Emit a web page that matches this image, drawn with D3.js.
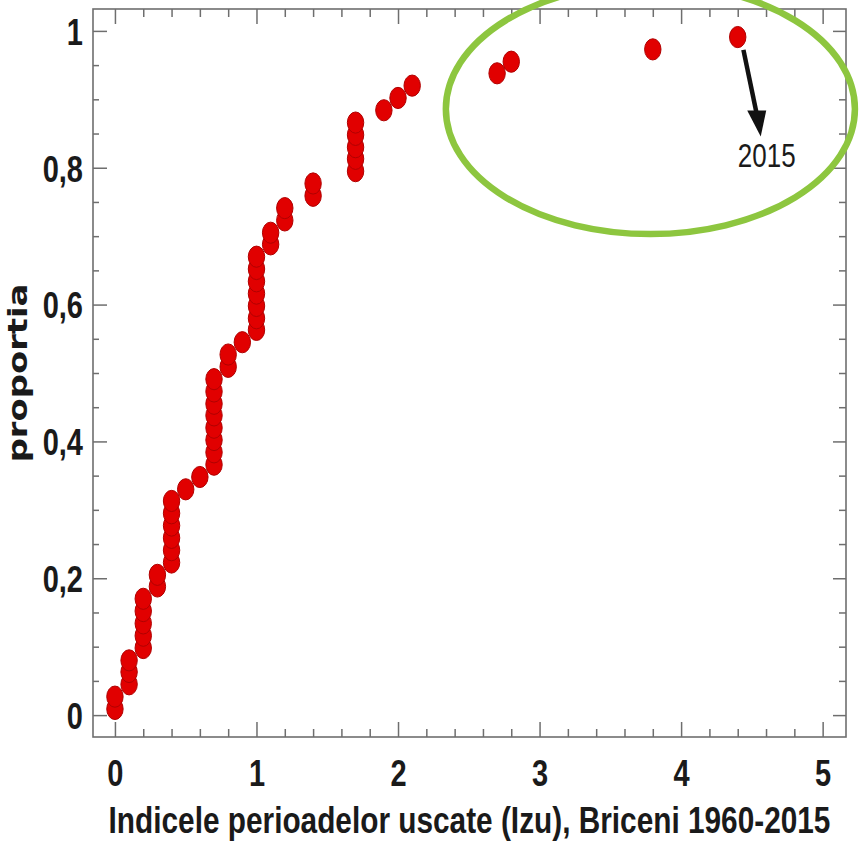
<!DOCTYPE html>
<html>
<head>
<meta charset="utf-8">
<script src="https://cdn.jsdelivr.net/npm/d3@7"></script>
<style>
  html, body { margin: 0; padding: 0; background: #ffffff; }
  svg { display: block; }
</style>
</head>
<body>
<svg id="chart" width="866" height="851"></svg>
<script>
// Dry-period index (Izu) for each year, sorted ascending, Briceni 1960-2015
const izuValues = [
  0, 0,
  0.1, 0.1, 0.1,
  0.2, 0.2, 0.2, 0.2, 0.2,
  0.3, 0.3,
  0.4, 0.4, 0.4, 0.4, 0.4, 0.4,
  0.5,
  0.6,
  0.7, 0.7, 0.7, 0.7, 0.7, 0.7, 0.7, 0.7,
  0.8, 0.8,
  0.9,
  1, 1, 1, 1, 1, 1, 1,
  1.1, 1.1,
  1.2, 1.2,
  1.4, 1.4,
  1.7, 1.7, 1.7, 1.7, 1.7,
  1.9,
  2.0,
  2.1,
  2.7,
  2.8,
  3.8,
  4.4
];

// Cumulative proportion of years at or below each value
const proportions = [
  0.009, 0.027,
  0.045, 0.063, 0.080,
  0.098, 0.116, 0.134, 0.152, 0.170,
  0.188, 0.205,
  0.223, 0.241, 0.259, 0.277, 0.295, 0.313,
  0.330,
  0.348,
  0.366, 0.384, 0.402, 0.420, 0.438, 0.455, 0.473, 0.491,
  0.509, 0.527,
  0.545,
  0.563, 0.580, 0.598, 0.616, 0.634, 0.652, 0.670,
  0.688, 0.705,
  0.723, 0.741,
  0.759, 0.777,
  0.795, 0.813, 0.830, 0.848, 0.866,
  0.884,
  0.902,
  0.920,
  0.938,
  0.955,
  0.973,
  0.991
];

const xTicks = [0, 1, 2, 3, 4, 5];
const xTickLabels = ["0", "1", "2", "3", "4", "5"];
const yTicks = [0, 0.2, 0.4, 0.6, 0.8, 1];
const yTickLabels = ["0", "0,2", "0,4", "0,6", "0,8", "1"];

const xTitle = "Indicele perioadelor uscate (Izu), Briceni 1960-2015";
const yTitle = "proportia";

// Highlighted year (last point) and the ring around the extreme values
const highlightLabel = "2015";
const highlightIzu = 4.4;
const highlightProp = 0.991;
const ringCenter = { izu: 3.783, prop: 0.886 };
const ringRadius = { izu: 1.445, prop: 0.183 };

// ---- layout ----
const frame = { left: 93, right: 846, top: 9, bottom: 737 };
const vStretch = 1.28;           // glyphs are drawn taller than wide
const axisColor = "#6e6e6e";
const labelFont = "'Liberation Sans', Arial, sans-serif";

const data = izuValues.map((v, i) => ({ izu: v, prop: proportions[i] }));

const x = d3.scaleLinear().domain([-0.155, 5.165]).range([frame.left, frame.right]);
const y = d3.scaleLinear().domain([-0.032, 1.032]).range([frame.bottom, frame.top]);

const svg = d3.select("#chart");

const xMinor = d3.range(0, 26).map(k => +(k * 0.2).toFixed(2)).filter(v => !xTicks.includes(v) && v <= 5.16);
const yMinor = d3.range(0, 21).map(k => +(k * 0.05).toFixed(2)).filter(v => !yTicks.includes(v));

function tidy(g, w) {
  g.select(".domain").remove();
  g.selectAll(".tick line").attr("stroke", axisColor).attr("stroke-width", w || 1.5);
  g.attr("font-family", null).attr("font-size", null);
}

// bottom axis: major ticks with labels, minor ticks
const gBottom = svg.append("g")
  .attr("transform", `translate(0,${frame.bottom})`)
  .call(d3.axisBottom(x).tickValues(xTicks).tickFormat((d, i) => xTickLabels[i])
    .tickSizeInner(-15).tickSizeOuter(0));
tidy(gBottom);
gBottom.selectAll(".tick text")
  .attr("y", 0).attr("dy", null)
  .attr("transform", `translate(0,49) scale(1,${vStretch})`)
  .attr("font-family", labelFont).attr("font-weight", "bold")
  .attr("font-size", 29).attr("fill", "#1a1a1a");

svg.append("g").attr("transform", `translate(0,${frame.bottom})`)
  .call(d3.axisBottom(x).tickValues(xMinor).tickFormat("").tickSizeInner(-8).tickSizeOuter(0))
  .call(tidy);

// top axis: ticks only
svg.append("g").attr("transform", `translate(0,${frame.top})`)
  .call(d3.axisTop(x).tickValues(xTicks).tickFormat("").tickSizeInner(-15).tickSizeOuter(0))
  .call(tidy);
svg.append("g").attr("transform", `translate(0,${frame.top})`)
  .call(d3.axisTop(x).tickValues(xMinor).tickFormat("").tickSizeInner(-8).tickSizeOuter(0))
  .call(tidy);

// left axis: major ticks with labels, minor ticks
const gLeft = svg.append("g")
  .attr("transform", `translate(${frame.left},0)`)
  .call(d3.axisLeft(y).tickValues(yTicks).tickFormat((d, i) => yTickLabels[i])
    .tickSizeInner(-14).tickSizeOuter(0));
tidy(gLeft);
gLeft.selectAll(".tick text")
  .attr("x", 0).attr("dy", null)
  .attr("transform", `translate(-10,13.3) scale(1,${vStretch})`)
  .attr("font-family", labelFont).attr("font-weight", "bold")
  .attr("font-size", 29).attr("fill", "#1a1a1a");

svg.append("g").attr("transform", `translate(${frame.left},0)`)
  .call(d3.axisLeft(y).tickValues(yMinor).tickFormat("").tickSizeInner(-6).tickSizeOuter(0))
  .call(tidy);

// right axis: ticks only
svg.append("g").attr("transform", `translate(${frame.right},0)`)
  .call(d3.axisRight(y).tickValues(yTicks).tickFormat("").tickSizeInner(-13).tickSizeOuter(0))
  .call(tidy);
svg.append("g").attr("transform", `translate(${frame.right},0)`)
  .call(d3.axisRight(y).tickValues(yMinor).tickFormat("").tickSizeInner(-7).tickSizeOuter(0))
  .call(tidy);

// plot frame
svg.append("rect")
  .attr("x", frame.left).attr("y", frame.top)
  .attr("width", frame.right - frame.left).attr("height", frame.bottom - frame.top)
  .attr("fill", "none").attr("stroke", axisColor).attr("stroke-width", 1.6);

// points
svg.append("g").selectAll("ellipse")
  .data(data)
  .join("ellipse")
  .attr("cx", d => x(d.izu))
  .attr("cy", d => y(d.prop))
  .attr("rx", 8.2)
  .attr("ry", 10.6)
  .attr("fill", "#e10000")
  .attr("stroke", "#b00000")
  .attr("stroke-width", 1);

// ring around the largest values
svg.append("ellipse")
  .attr("cx", x(ringCenter.izu))
  .attr("cy", y(ringCenter.prop))
  .attr("rx", x(ringCenter.izu + ringRadius.izu) - x(ringCenter.izu))
  .attr("ry", y(ringCenter.prop - ringRadius.prop) - y(ringCenter.prop))
  .attr("fill", "none")
  .attr("stroke", "#8dc63f")
  .attr("stroke-width", 6.5);

// arrow pointing from the 2015 point to its label
const px = x(highlightIzu), py = y(highlightProp);
svg.append("line")
  .attr("x1", px + 5.7).attr("y1", py + 12.8)
  .attr("x2", px + 19).attr("y2", py + 77)
  .attr("stroke", "#111").attr("stroke-width", 4.5);
svg.append("path")
  .attr("d", `M${px + 9.5},${py + 73.5} L${px + 28.5},${py + 73.5} L${px + 23},${py + 99.5} Z`)
  .attr("fill", "#111");

svg.append("text")
  .attr("transform", `translate(${px + 29},${py + 130}) scale(1,1.3)`)
  .attr("text-anchor", "middle")
  .attr("font-family", labelFont)
  .attr("font-size", 26)
  .attr("fill", "#1a1a1a")
  .text(highlightLabel);

// axis titles
svg.append("text")
  .attr("transform", `translate(${(frame.left + frame.right) / 2},833) scale(1,1.27)`)
  .attr("text-anchor", "middle")
  .attr("font-family", labelFont)
  .attr("font-weight", "bold")
  .attr("font-size", 29.8)
  .attr("fill", "#1a1a1a")
  .text(xTitle);

svg.append("text")
  .attr("transform", `translate(27,${(frame.top + frame.bottom) / 2}) rotate(-90) scale(1.3,1)`)
  .attr("text-anchor", "middle")
  .attr("font-family", "'DejaVu Sans', Verdana, sans-serif")
  .attr("font-weight", "bold")
  .attr("font-size", 26)
  .attr("fill", "#1a1a1a")
  .text(yTitle);
</script>
</body>
</html>
